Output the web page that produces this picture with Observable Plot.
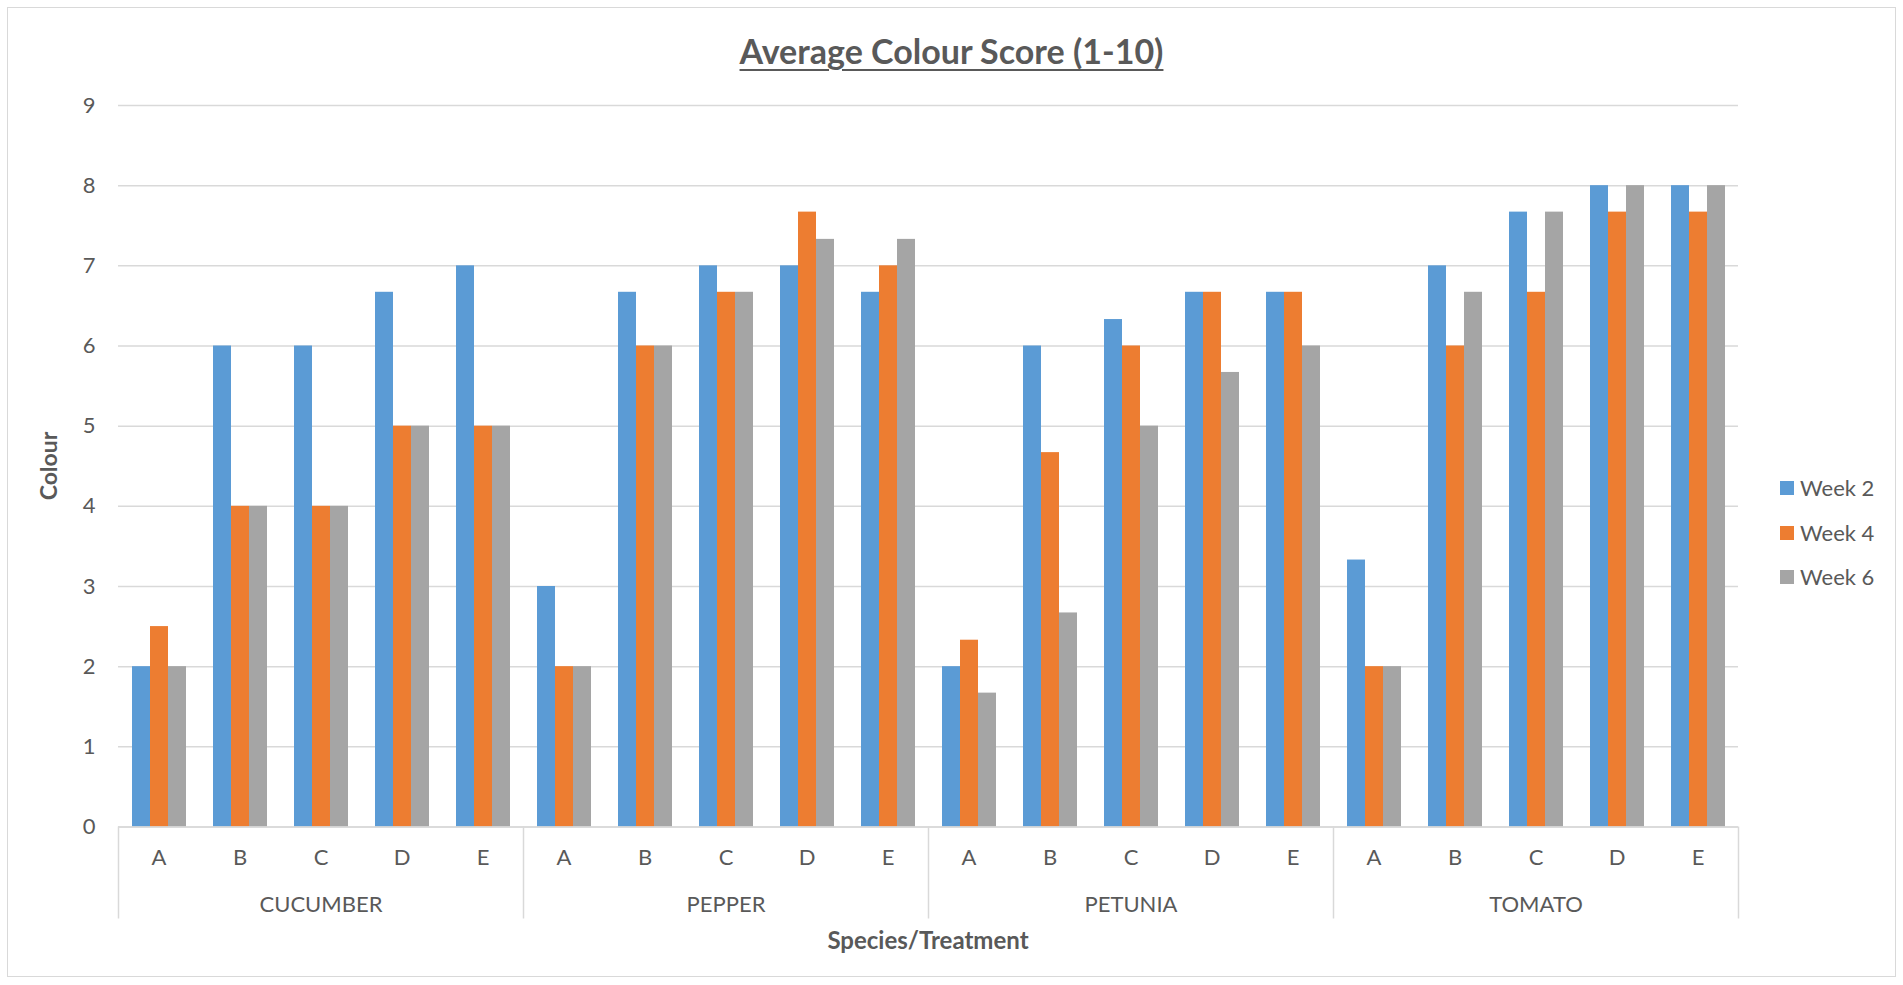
<!DOCTYPE html>
<html>
<head>
<meta charset="utf-8">
<script src="https://cdn.jsdelivr.net/npm/d3@7"></script>
<script src="https://cdn.jsdelivr.net/npm/@observablehq/plot@0.6"></script>
<style>
  html, body { margin: 0; padding: 0; background: #fff; }
  #wrap { position: relative; width: 1903px; height: 985px; overflow: hidden; font-family: Lato, sans-serif; color: #595959; }
  #border { position: absolute; left: 7px; top: 7px; width: 1889px; height: 970px; border: 1.5px solid #d9d9d9; box-sizing: border-box; }
  #chart { position: absolute; left: 0; top: 0; }
  #title { position: absolute; left: 0; width: 1903px; top: 34px; text-align: center; font-weight: bold; font-size: 34px; line-height: 34px; text-decoration: underline; text-underline-offset: 5px; text-decoration-thickness: 2px; }
  #ytitle { position: absolute; left: 48px; top: 466px; transform: translate(-50%, -50%) rotate(-90deg); font-weight: bold; font-size: 23px; line-height: 23px; white-space: nowrap; }
  #xtitle { position: absolute; left: 928px; top: 940px; transform: translate(-50%, -50%); font-weight: bold; font-size: 24px; line-height: 24px; white-space: nowrap; }
  #legend { position: absolute; left: 1780px; top: 466px; }
  .li { position: absolute; left: 0; height: 24px; display: flex; align-items: center; white-space: nowrap; font-size: 22px; line-height: 24px; }
  .sw { width: 14px; height: 14px; margin-right: 6px; }
</style>
</head>
<body>
<div id="wrap">
  <div id="border"></div>
  <div id="chart"></div>
  <div id="title">Average Colour Score (1-10)</div>
  <div id="ytitle">Colour</div>
  <div id="xtitle">Species/Treatment</div>
  <div id="legend"></div>
</div>
<script>
const species = ["CUCUMBER", "PEPPER", "PETUNIA", "TOMATO"];
const treatments = ["A", "B", "C", "D", "E"];
const weeks = ["Week 2", "Week 4", "Week 6"];
const colors = ["#5B9BD5", "#ED7D31", "#A5A5A5"];
const yTicks = [0, 1, 2, 3, 4, 5, 6, 7, 8, 9];

// values in order CUCUMBER A..E, PEPPER A..E, PETUNIA A..E, TOMATO A..E
const week2 = [2, 6, 6, 6.67, 7,   3, 6.67, 7, 7, 6.67,   2, 6, 6.33, 6.67, 6.67,   3.33, 7, 7.67, 8, 8];
const week4 = [2.5, 4, 4, 5, 5,    2, 6, 6.67, 7.67, 7,   2.33, 4.67, 6, 6.67, 6.67, 2, 6, 6.67, 7.67, 7.67];
const week6 = [2, 4, 4, 5, 5,      2, 6, 6.67, 7.33, 7.33, 1.67, 2.67, 5, 5.67, 6,   2, 6.67, 7.67, 8, 8];

const series = [week2, week4, week6];
const keys = [];
const rows = [];
species.forEach((s, i) => treatments.forEach((t, j) => {
  const key = s + "|" + t;
  keys.push(key);
  weeks.forEach((w, k) => rows.push({key, species: s, treatment: t, week: w, value: series[k][i * treatments.length + j]}));
}));

const W = 1903, H = 985, ML = 118, MR = 165, MT = 105, MB = 158.5;
const fw = (W - ML - MR) / keys.length;
const gridColor = "#d9d9d9";

const chart = Plot.plot({
  width: W, height: H,
  marginLeft: ML, marginRight: MR, marginTop: MT, marginBottom: MB,
  fx: {domain: keys, padding: 0, axis: null},
  x: {domain: weeks, paddingInner: 0, paddingOuter: 0.75, axis: null},
  y: {domain: [0, 9], axis: null},
  color: {domain: weeks, range: colors},
  style: {fontFamily: "Lato, sans-serif", fontSize: "22px", color: "#595959", background: "transparent", overflow: "visible"},
  marks: [
    Plot.gridY(yTicks, {stroke: gridColor, strokeOpacity: 1, strokeWidth: 1.5}),
    Plot.barY(rows, {fx: "key", x: "week", y: "value", fill: "week"}),
    Plot.ruleY([0], {stroke: gridColor, strokeWidth: 1.5}),
    Plot.axisY(yTicks, {tickSize: 0, tickPadding: 23, fontSize: 22, label: null, fill: "#595959", tickFormat: d => String(d)}),
    Plot.text(keys, {fx: d => d, text: d => d.split("|")[1], frameAnchor: "bottom", dy: 31, lineAnchor: "middle", fill: "#595959", fontSize: 22}),
    Plot.text(species, {fx: d => d + "|C", text: d => d, frameAnchor: "bottom", dy: 78, lineAnchor: "middle", fill: "#595959", fontSize: 22}),
    Plot.ruleX(species.map(s => s + "|A"), {fx: d => d, x: null, y1: 0, y2: 0, insetBottom: -92, dx: -fw / 2, stroke: gridColor, strokeWidth: 1.5}),
    Plot.ruleX([keys[keys.length - 1]], {fx: d => d, x: null, y1: 0, y2: 0, insetBottom: -92, dx: fw / 2, stroke: gridColor, strokeWidth: 1.5})
  ]
});
document.getElementById("chart").appendChild(chart);

const legend = document.getElementById("legend");
weeks.forEach((w, i) => {
  const item = document.createElement("div");
  item.className = "li";
  item.style.top = (10 + i * 44.5) + "px";
  const sw = document.createElement("div");
  sw.className = "sw";
  sw.style.background = colors[i];
  const tx = document.createElement("span");
  tx.textContent = w;
  item.appendChild(sw);
  item.appendChild(tx);
  legend.appendChild(item);
});
</script>
</body>
</html>
